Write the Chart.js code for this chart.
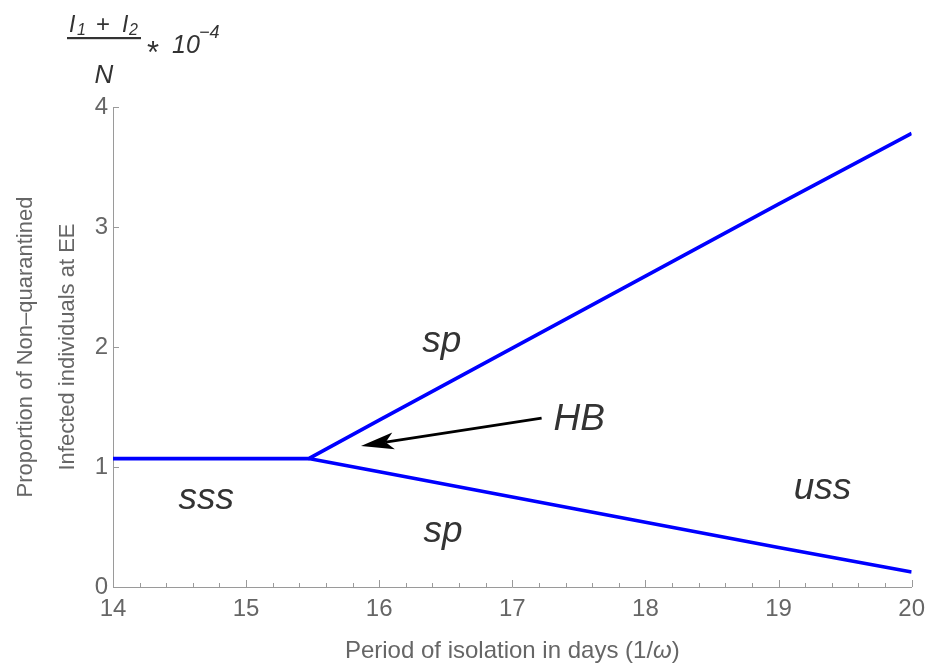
<!DOCTYPE html>
<html>
<head>
<meta charset="utf-8">
<script src="https://cdn.jsdelivr.net/npm/chart.js@4.4.1/dist/chart.umd.min.js"></script>
<style>
  html, body { margin: 0; padding: 0; background: #ffffff; }
  #wrap { width: 933px; height: 667px; }
</style>
</head>
<body>
<div id="wrap"><canvas id="chart" width="933" height="667"></canvas></div>
<script>
// Equilibrium branch before the Hopf bifurcation (stable steady state)
const stableX = [14, 15.47];
const stableY = [1.07, 1.07];
// Upper and lower envelopes of the stable periodic solution after HB
const upperX = [15.47, 16, 17, 18, 19, 20];
const upperY = [1.07, 1.39, 1.99, 2.59, 3.19, 3.78];
const lowerX = [15.47, 16, 17, 18, 19, 20];
const lowerY = [1.07, 0.96, 0.75, 0.54, 0.33, 0.125];
// Axis tick values
const xTickValues = [14, 15, 16, 17, 18, 19, 20];
const yTickValues = [0, 1, 2, 3, 4];
// Region annotations (text and anchor in data units)
const regionTexts = ['sp', 'sp', 'sss', 'uss'];
const regionAtX = [16.47, 16.48, 14.70, 19.33];
const regionAtY = [1.96, 0.375, 0.65, 0.735];
// Hopf bifurcation marker
const hbText = 'HB';
const hbTextAt = [17.31, 1.31];
const hbArrowFrom = [17.22, 1.408];
const hbArrowTo = [15.863, 1.175];

const FONT = '"Liberation Sans", Arial, Helvetica, sans-serif';
const AXIS_GRAY = '#9a9a9a';
const LABEL_GRAY = '#666666';
const TEXT_DARK = '#333333';

const toPoints = (xs, ys) => xs.map((v, i) => ({ x: v, y: ys[i] }));

// Stable branch continues into the upper envelope as one polyline
const upperPath = toPoints(stableX, stableY).concat(toPoints(upperX, upperY).slice(1));
const lowerPath = toPoints(lowerX, lowerY);

const inwardTicks = {
  id: 'inwardTicks',
  afterDraw(chart) {
    const { ctx, chartArea: a, scales: { x, y } } = chart;
    ctx.save();
    ctx.strokeStyle = AXIS_GRAY;
    ctx.lineWidth = 1;
    ctx.beginPath();
    const xMin = xTickValues[0], xMax = xTickValues[xTickValues.length - 1];
    const minorPerUnit = 5;
    const n = (xMax - xMin) * minorPerUnit;
    for (let i = 0; i <= n; i++) {
      const px = Math.round(x.getPixelForValue(xMin + i / minorPerUnit)) + 0.5;
      const len = i % minorPerUnit === 0 ? 7 : 4;
      ctx.moveTo(px, a.bottom);
      ctx.lineTo(px, a.bottom - len);
    }
    for (const v of yTickValues) {
      const py = Math.round(y.getPixelForValue(v)) + 0.5;
      ctx.moveTo(a.left, py);
      ctx.lineTo(a.left + 6, py);
    }
    ctx.stroke();
    ctx.restore();
  }
};

const annotations = {
  id: 'annotations',
  afterDatasetsDraw(chart) {
    const { ctx, scales: { x, y } } = chart;
    ctx.save();
    ctx.fillStyle = TEXT_DARK;
    ctx.font = 'italic 37px ' + FONT;
    ctx.textBaseline = 'alphabetic';
    ctx.textAlign = 'center';
    regionTexts.forEach((t, i) => {
      ctx.fillText(t, x.getPixelForValue(regionAtX[i]), y.getPixelForValue(regionAtY[i]));
    });
    ctx.textAlign = 'left';
    ctx.fillText(hbText, x.getPixelForValue(hbTextAt[0]), y.getPixelForValue(hbTextAt[1]));

    // arrow pointing at the bifurcation
    const x0 = x.getPixelForValue(hbArrowFrom[0]), y0 = y.getPixelForValue(hbArrowFrom[1]);
    const x1 = x.getPixelForValue(hbArrowTo[0]), y1 = y.getPixelForValue(hbArrowTo[1]);
    const ang = Math.atan2(y1 - y0, x1 - x0);
    const headLen = 33, headHalf = 8.5, notch = 8;
    const bx = x1 - headLen * Math.cos(ang), by = y1 - headLen * Math.sin(ang);
    const nx = -Math.sin(ang), ny = Math.cos(ang);
    ctx.strokeStyle = '#000';
    ctx.fillStyle = '#000';
    ctx.lineWidth = 2.8;
    ctx.beginPath();
    ctx.moveTo(x0, y0);
    ctx.lineTo(bx + notch * Math.cos(ang), by + notch * Math.sin(ang));
    ctx.stroke();
    ctx.beginPath();
    ctx.moveTo(x1, y1);
    ctx.lineTo(bx + headHalf * nx, by + headHalf * ny);
    ctx.lineTo(bx + notch * Math.cos(ang), by + notch * Math.sin(ang));
    ctx.lineTo(bx - headHalf * nx, by - headHalf * ny);
    ctx.closePath();
    ctx.fill();
    ctx.restore();
  }
};

const outerLabels = {
  id: 'outerLabels',
  afterDraw(chart) {
    const { ctx, chartArea: a } = chart;
    ctx.save();
    ctx.textBaseline = 'alphabetic';
    ctx.textAlign = 'left';

    // x-axis title with italic omega
    const parts = [
      ['Period of isolation in days (1/', '24px ' + FONT],
      ['\u03C9', 'italic 24px ' + FONT],
      [')', '24px ' + FONT]
    ];
    let total = 0;
    parts.forEach(([t, f]) => { ctx.font = f; total += ctx.measureText(t).width; });
    let cx = (a.left + a.right) / 2 - total / 2;
    ctx.fillStyle = LABEL_GRAY;
    parts.forEach(([t, f]) => { ctx.font = f; ctx.fillText(t, cx, 658); cx += ctx.measureText(t).width; });

    // y-axis unit: (I1 + I2) / N * 10^-4
    ctx.fillStyle = TEXT_DARK;
    ctx.font = 'italic 23px ' + FONT;
    ctx.fillText('I', 69, 32);
    ctx.font = 'italic 16px ' + FONT;
    ctx.fillText('1', 77, 35);
    ctx.font = '24px ' + FONT;
    ctx.fillText('+', 96, 32);
    ctx.font = 'italic 23px ' + FONT;
    ctx.fillText('I', 122, 32);
    ctx.font = 'italic 16px ' + FONT;
    ctx.fillText('2', 129, 35);
    ctx.fillRect(67, 37, 74, 2.2);
    ctx.font = 'italic 26px ' + FONT;
    ctx.textAlign = 'center';
    ctx.fillText('N', 104, 83);
    ctx.textAlign = 'left';
    ctx.font = '31px ' + FONT;
    const star = ctx.measureText('*');
    ctx.fillText('*', 147, 41 + star.actualBoundingBoxAscent);
    ctx.font = 'italic 25px ' + FONT;
    ctx.fillText('10', 172, 53);
    ctx.font = 'italic 18px ' + FONT;
    ctx.fillText('\u22124', 199, 38);
    ctx.restore();
  }
};

new Chart(document.getElementById('chart'), {
  type: 'line',
  data: {
    datasets: [
      { data: upperPath, borderColor: '#0000ff', borderWidth: 3.6, pointRadius: 0, fill: false, tension: 0, borderJoinStyle: 'miter' },
      { data: lowerPath, borderColor: '#0000ff', borderWidth: 3.6, pointRadius: 0, fill: false, tension: 0 }
    ]
  },
  options: {
    responsive: false,
    animation: false,
    devicePixelRatio: 1,
    layout: { padding: { left: 0, top: 107, right: 16, bottom: 0 } },
    plugins: { legend: { display: false }, tooltip: { enabled: false } },
    scales: {
      x: {
        type: 'linear',
        min: 14,
        max: 20,
        afterBuildTicks: s => { s.ticks = xTickValues.map(v => ({ value: v })); },
        afterFit: s => { s.height = 80; },
        grid: { drawOnChartArea: false, drawTicks: false },
        border: { display: true, color: AXIS_GRAY, width: 1 },
        ticks: { color: LABEL_GRAY, padding: 8, font: { family: FONT, size: 24 }, maxRotation: 0 }
      },
      y: {
        type: 'linear',
        min: 0,
        max: 4,
        afterBuildTicks: s => { s.ticks = yTickValues.map(v => ({ value: v })); },
        afterFit: s => { s.width = 113; },
        grid: { drawOnChartArea: false, drawTicks: false },
        border: { display: true, color: AXIS_GRAY, width: 1 },
        ticks: { color: LABEL_GRAY, padding: 5, font: { family: FONT, size: 24 } },
        title: {
          display: true,
          text: ['Proportion of Non\u2013quarantined', 'Infected individuals at EE'],
          color: LABEL_GRAY,
          font: { family: FONT, size: 22, lineHeight: 1.95 },
          padding: { top: 4, bottom: 0 }
        }
      }
    }
  },
  plugins: [inwardTicks, annotations, outerLabels]
});
</script>
</body>
</html>
